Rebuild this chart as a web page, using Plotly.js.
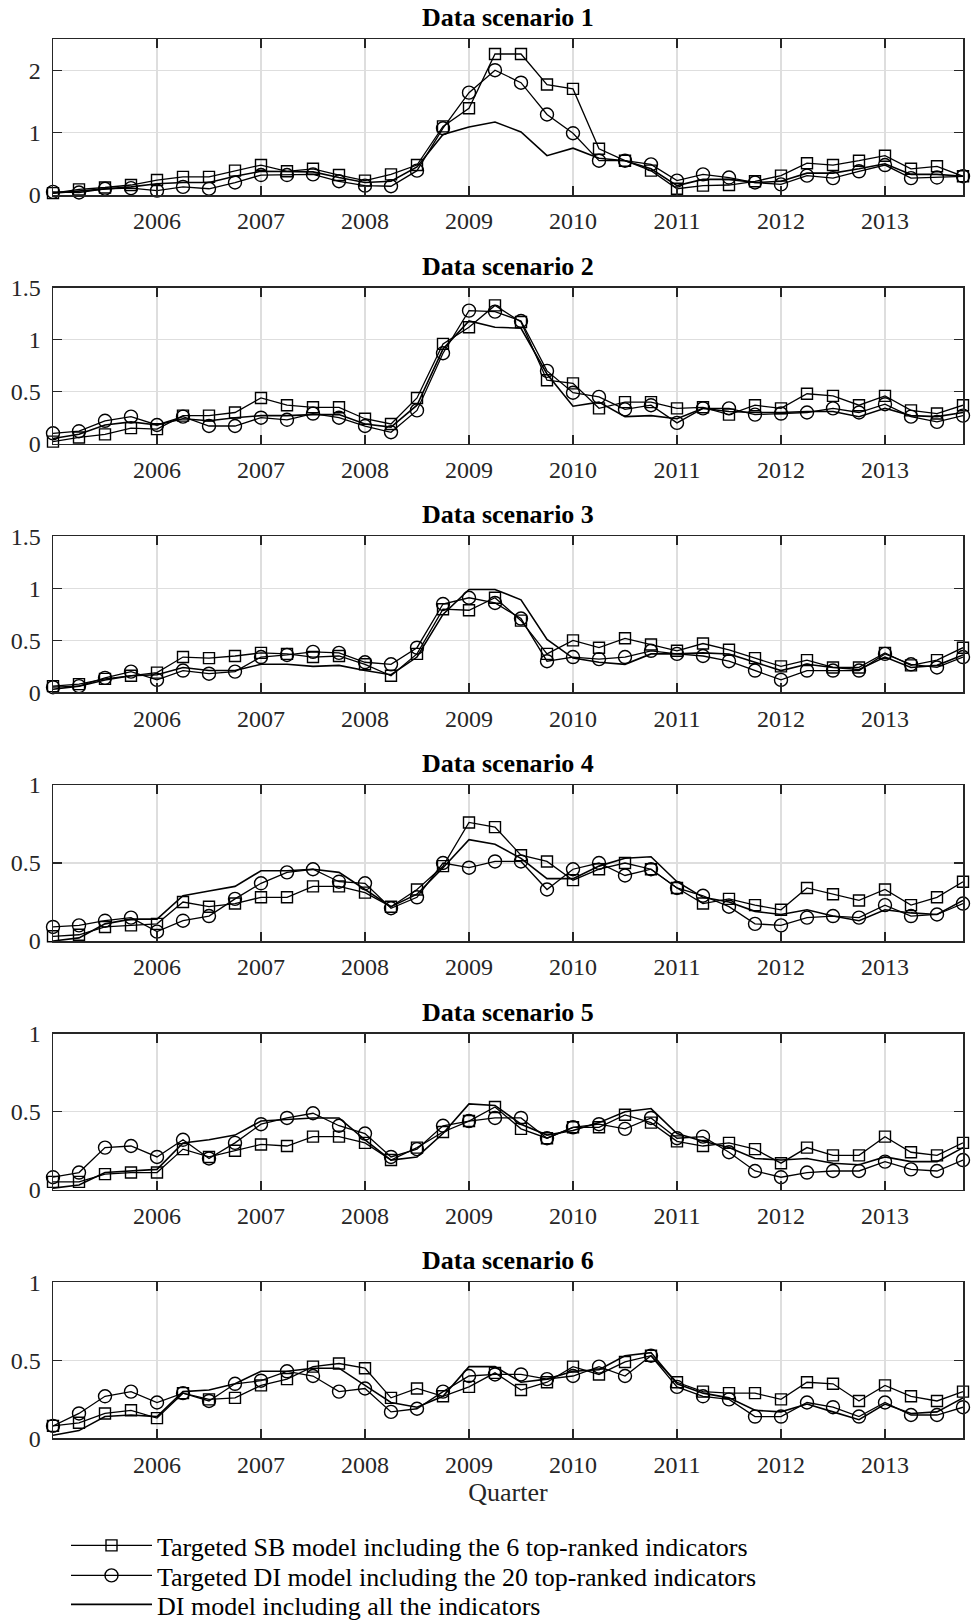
<!DOCTYPE html>
<html><head><meta charset="utf-8">
<script src="https://cdn.plot.ly/plotly-3.0.1.min.js"></script>
<style>html,body{margin:0;padding:0;background:#fff}</style>
</head><body><div id="chart" style="width:974px;height:1623px"></div>
<script>
// ---------- data ----------
const quarters = ['2005Q1','2005Q2','2005Q3','2005Q4','2006Q1','2006Q2','2006Q3','2006Q4',
  '2007Q1','2007Q2','2007Q3','2007Q4','2008Q1','2008Q2','2008Q3','2008Q4',
  '2009Q1','2009Q2','2009Q3','2009Q4','2010Q1','2010Q2','2010Q3','2010Q4',
  '2011Q1','2011Q2','2011Q3','2011Q4','2012Q1','2012Q2','2012Q3','2012Q4',
  '2013Q1','2013Q2','2013Q3','2013Q4'];
const yearTickVals = ['2006Q1','2007Q1','2008Q1','2009Q1','2010Q1','2011Q1','2012Q1','2013Q1'];
const yearTickText = ['2006','2007','2008','2009','2010','2011','2012','2013'];
const scenarioTitles = ['Data scenario 1','Data scenario 2','Data scenario 3','Data scenario 4','Data scenario 5','Data scenario 6'];
const seriesNames = ['Targeted SB model including the 6 top-ranked indicators',
  'Targeted DI model including the 20 top-ranked indicators',
  'DI model including all the indicators'];

const sb1 = [0.03,0.09,0.12,0.16,0.24,0.29,0.29,0.39,0.48,0.38,0.42,0.32,0.23,0.33,0.48,1.10,1.39,2.26,2.26,1.77,1.70,0.74,0.55,0.39,0.10,0.15,0.16,0.22,0.31,0.51,0.48,0.55,0.63,0.42,0.46,0.30];
const di20_1 = [0.05,0.04,0.10,0.11,0.07,0.13,0.10,0.20,0.32,0.32,0.33,0.22,0.15,0.14,0.39,1.07,1.64,2.00,1.80,1.29,0.99,0.55,0.55,0.49,0.23,0.33,0.28,0.20,0.17,0.31,0.27,0.38,0.48,0.27,0.28,0.30];
const diAll1 = [0.03,0.06,0.10,0.13,0.18,0.20,0.20,0.30,0.38,0.37,0.37,0.28,0.20,0.22,0.45,0.97,1.09,1.17,1.01,0.63,0.75,0.59,0.55,0.42,0.15,0.25,0.25,0.20,0.22,0.35,0.35,0.42,0.50,0.33,0.33,0.30];

const sb2 = [0.02,0.06,0.09,0.15,0.14,0.27,0.27,0.30,0.44,0.37,0.35,0.35,0.24,0.19,0.44,0.96,1.12,1.33,1.17,0.61,0.58,0.34,0.40,0.40,0.34,0.35,0.28,0.37,0.34,0.48,0.46,0.37,0.46,0.32,0.29,0.37];
const di20_2 = [0.10,0.12,0.22,0.26,0.18,0.26,0.17,0.17,0.25,0.23,0.29,0.25,0.17,0.11,0.32,0.87,1.28,1.27,1.18,0.70,0.49,0.45,0.33,0.37,0.20,0.34,0.34,0.28,0.29,0.30,0.34,0.30,0.38,0.26,0.21,0.27];
const diAll2 = [0.05,0.09,0.18,0.21,0.18,0.24,0.22,0.25,0.27,0.27,0.28,0.28,0.19,0.16,0.37,0.91,1.18,1.12,1.11,0.67,0.36,0.40,0.26,0.27,0.24,0.34,0.31,0.30,0.30,0.31,0.31,0.26,0.34,0.27,0.26,0.30];

const sb3 = [0.06,0.08,0.13,0.16,0.19,0.34,0.33,0.35,0.38,0.37,0.34,0.35,0.27,0.16,0.37,0.80,0.79,0.91,0.69,0.37,0.50,0.43,0.52,0.46,0.40,0.47,0.41,0.33,0.25,0.31,0.24,0.24,0.38,0.26,0.31,0.43];
const di20_3 = [0.05,0.06,0.14,0.20,0.12,0.21,0.18,0.20,0.34,0.36,0.39,0.38,0.29,0.27,0.43,0.85,0.91,0.86,0.71,0.30,0.34,0.32,0.34,0.40,0.37,0.35,0.30,0.21,0.12,0.21,0.21,0.21,0.37,0.27,0.24,0.34];
const diAll3 = [0.03,0.06,0.12,0.16,0.17,0.24,0.21,0.21,0.27,0.27,0.25,0.26,0.21,0.17,0.34,0.75,0.99,0.99,0.89,0.51,0.33,0.29,0.27,0.37,0.37,0.38,0.37,0.29,0.21,0.27,0.24,0.22,0.34,0.24,0.26,0.36];

const sb4 = [0.03,0.04,0.09,0.10,0.11,0.25,0.22,0.24,0.28,0.28,0.35,0.35,0.31,0.22,0.33,0.48,0.76,0.73,0.55,0.51,0.39,0.46,0.50,0.46,0.34,0.24,0.27,0.23,0.20,0.34,0.30,0.26,0.33,0.23,0.28,0.38];
const di20_4 = [0.09,0.10,0.13,0.15,0.06,0.13,0.16,0.27,0.37,0.44,0.46,0.38,0.37,0.21,0.28,0.50,0.47,0.51,0.51,0.33,0.46,0.50,0.42,0.46,0.34,0.29,0.22,0.11,0.10,0.15,0.16,0.15,0.23,0.16,0.17,0.24];
const diAll4 = [0.00,0.02,0.11,0.14,0.14,0.29,0.32,0.35,0.45,0.45,0.46,0.44,0.33,0.22,0.30,0.47,0.65,0.62,0.53,0.40,0.40,0.48,0.53,0.54,0.38,0.28,0.25,0.19,0.17,0.20,0.16,0.13,0.20,0.18,0.17,0.26];

const sb5 = [0.05,0.05,0.10,0.11,0.11,0.26,0.21,0.25,0.29,0.28,0.34,0.34,0.30,0.19,0.27,0.37,0.44,0.53,0.39,0.33,0.40,0.40,0.48,0.43,0.31,0.28,0.30,0.26,0.17,0.27,0.22,0.22,0.34,0.24,0.22,0.30];
const di20_5 = [0.08,0.11,0.27,0.28,0.21,0.32,0.20,0.30,0.42,0.46,0.49,0.41,0.36,0.21,0.26,0.41,0.44,0.46,0.46,0.33,0.40,0.42,0.39,0.46,0.33,0.34,0.24,0.12,0.08,0.11,0.12,0.12,0.18,0.13,0.12,0.19];
const diAll5 = [0.01,0.03,0.11,0.12,0.13,0.30,0.32,0.35,0.44,0.45,0.46,0.46,0.32,0.19,0.21,0.36,0.55,0.54,0.42,0.35,0.38,0.43,0.50,0.52,0.36,0.31,0.27,0.20,0.19,0.20,0.17,0.16,0.21,0.18,0.18,0.27];

const sb6 = [0.08,0.10,0.16,0.18,0.13,0.29,0.25,0.26,0.34,0.38,0.46,0.48,0.45,0.26,0.32,0.27,0.33,0.42,0.31,0.36,0.46,0.41,0.49,0.53,0.36,0.30,0.29,0.29,0.25,0.36,0.35,0.24,0.34,0.27,0.24,0.30];
const di20_6 = [0.08,0.16,0.27,0.30,0.23,0.29,0.24,0.35,0.37,0.43,0.40,0.30,0.32,0.17,0.19,0.30,0.40,0.41,0.41,0.38,0.40,0.46,0.40,0.53,0.33,0.27,0.25,0.14,0.14,0.23,0.20,0.14,0.23,0.15,0.15,0.20];
const diAll6 = [0.02,0.05,0.14,0.15,0.14,0.30,0.31,0.35,0.43,0.43,0.45,0.45,0.34,0.23,0.20,0.27,0.46,0.46,0.36,0.38,0.43,0.44,0.53,0.55,0.35,0.29,0.26,0.18,0.17,0.22,0.17,0.12,0.22,0.16,0.17,0.26];

const yTickVals = [[0,1,2],[0,0.5,1,1.5],[0,0.5,1,1.5],[0,0.5,1],[0,0.5,1],[0,0.5,1]];
const yTickText = [['0','1','2'],['0','0.5','1','1.5'],['0','0.5','1','1.5'],['0','0.5','1'],['0','0.5','1'],['0','0.5','1']];
const yMax = [2.5,1.5,1.5,1,1,1];

// ---------- build ----------
const panels = [
  [sb1, di20_1, diAll1],[sb2, di20_2, diAll2],[sb3, di20_3, diAll3],
  [sb4, di20_4, diAll4],[sb5, di20_5, diAll5],[sb6, di20_6, diAll6]
];
const W = 974, H = 1623;
const plotLeft = 53, plotRight = 963;
const panelTops = [39, 287.7, 536.4, 785, 1033.7, 1282.4];
const panelH = 156;
const FONT = 'Liberation Serif, Times New Roman, serif';
const AX = '#262626';
const legendIds = ['legend', 'legend2', 'legend3'];
const legendTops = [1522, 1552, 1581];

const traces = [];
const layout = {
  width: W, height: H,
  margin: {l: plotLeft, r: W - plotRight, t: 0, b: 0, pad: 0, autoexpand: false},
  paper_bgcolor: '#fff', plot_bgcolor: '#fff',
  font: {family: FONT, size: 24, color: AX},
  showlegend: true,
  annotations: []
};
legendIds.forEach((id, k) => {
  layout[id] = {
    x: (66 - plotLeft) / (plotRight - plotLeft), xanchor: 'left',
    y: 1 - legendTops[k] / H, yanchor: 'top',
    font: {family: FONT, size: 26, color: '#000'},
    bgcolor: 'rgba(0,0,0,0)', borderwidth: 0,
    itemwidth: 81, tracegroupgap: 0
  };
});

const markerStyles = [
  {mode: 'lines+markers', marker: {symbol: 'square-open', size: 11, color: '#000', line: {width: 1.4, color: '#000'}}, line: {color: '#000', width: 1.3}},
  {mode: 'lines+markers', marker: {symbol: 'circle-open', size: 13, color: '#000', line: {width: 1.4, color: '#000'}}, line: {color: '#000', width: 1.3}},
  {mode: 'lines', line: {color: '#000', width: 1.6}}
];

panels.forEach((series, p) => {
  const n = p + 1;
  const xa = 'x' + (n === 1 ? '' : n), ya = 'y' + (n === 1 ? '' : n);
  series.forEach((vals, s) => {
    traces.push(Object.assign({
      type: 'scatter', x: quarters, y: vals, xaxis: xa, yaxis: ya,
      name: seriesNames[s], legend: legendIds[s], legendgroup: 'g' + s, showlegend: p === 0,
      cliponaxis: false, hoverinfo: 'x+y'
    }, JSON.parse(JSON.stringify(markerStyles[s]))));
  });
  const top = panelTops[p], bot = top + panelH;
  const dom = [1 - bot / H, 1 - top / H];
  const common = {
    ticks: 'inside', ticklen: 9, tickwidth: 1.3, tickcolor: AX,
    showline: true, linecolor: AX, linewidth: 1.5, mirror: 'allticks',
    showgrid: true, gridcolor: '#dedede', gridwidth: 1.3, zeroline: false,
    tickfont: {family: FONT, size: 24, color: AX}, fixedrange: true, automargin: false
  };
  layout['xaxis' + (n === 1 ? '' : n)] = Object.assign({}, common, {
    type: 'category', categoryorder: 'array', categoryarray: quarters,
    range: [0, quarters.length - 1], domain: [0, 1], anchor: ya,
    tickmode: 'array', tickvals: yearTickVals, ticktext: yearTickText,
    ticklabelstandoff: 4
  });
  layout['yaxis' + (n === 1 ? '' : n)] = Object.assign({}, common, {
    range: [0, yMax[p]], domain: dom, anchor: xa,
    tickmode: 'array', tickvals: yTickVals[p], ticktext: yTickText[p],
    ticklabelstandoff: 6
  });
  layout.annotations.push({
    text: '<b>' + scenarioTitles[p] + '</b>', xref: 'paper', yref: 'paper',
    x: 0.5, y: dom[1], xanchor: 'center', yanchor: 'bottom', yshift: 5,
    showarrow: false, font: {family: FONT, size: 26, color: '#000'}
  });
});
layout.xaxis6.title = {text: 'Quarter', font: {family: FONT, size: 26, color: AX}, standoff: 6};

Plotly.newPlot('chart', traces, layout, {displayModeBar: false, staticPlot: true});
</script></body></html>
